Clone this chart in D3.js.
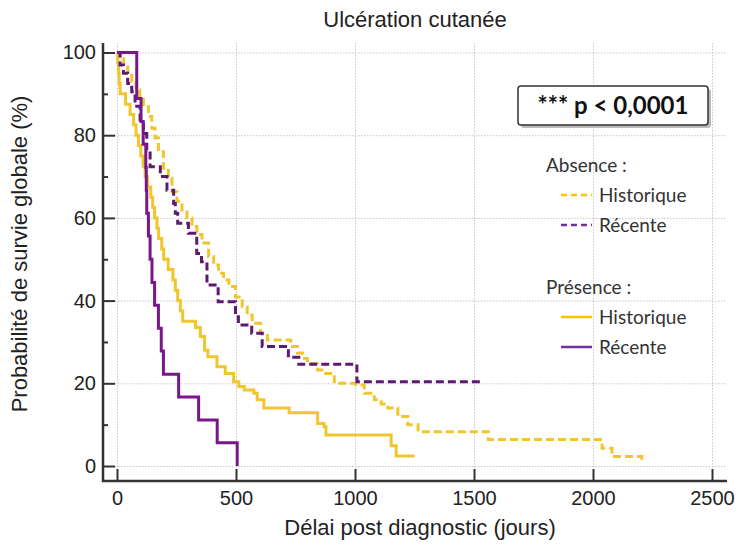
<!DOCTYPE html>
<html>
<head>
<meta charset="utf-8">
<script src="https://cdn.jsdelivr.net/npm/d3@7"></script>
<style>
  html, body { margin: 0; padding: 0; background: #fff; }
  svg { display: block; }
</style>
</head>
<body>
<svg id="chart" width="740" height="544"></svg>
<script>
// ---- Data ----
const chartTitle = "Ulcération cutanée";
const xTitle = "Délai post diagnostic (jours)";
const yTitle = "Probabilité de survie globale (%)";
const xTicks = [0, 500, 1000, 1500, 2000, 2500];
const yTicks = [0, 20, 40, 60, 80, 100];
const yMinorTicks = [10, 30, 50, 70, 90];
const pText = "*** p < 0,0001";

// Absence : Historique (yellow dashed)
const absHistDays = [0, 12, 28, 45, 62, 80, 96, 111, 132, 146, 160, 174, 195, 216, 231, 252,
  273, 294, 315, 336, 357, 385, 406, 427, 448, 470, 498, 526, 547, 568, 603, 632,
  730, 758, 780, 800, 843, 870, 913, 1004, 1039, 1081, 1110, 1138, 1180, 1222, 1265, 1560,
  2038, 2080, 2205];
const absHistSurv = [100, 98.5, 96.5, 95, 93, 91, 89, 86.9, 84.5, 81.7, 79.3, 76, 72, 69.6, 66.3, 64,
  61.9, 60, 57.9, 56, 53.9, 50.6, 48.6, 46.6, 45, 43.4, 40.9, 38.5, 36.5, 34.5, 32.1, 30.5,
  28.9, 27.3, 26, 24.8, 23.2, 22.4, 20, 19.6, 17.6, 16, 15, 14, 12, 10, 8.3, 6.4,
  4.3, 2.3, 1];

// Absence : Récente (purple dashed)
const absRecDays = [0, 13, 27, 45, 62, 76, 97, 111, 125, 139, 182, 210, 238, 245, 255, 300, 335, 355,
  378, 425, 498, 510, 566, 610, 720, 764, 1008, 1525];
const absRecSurv = [100, 97, 95, 92.5, 90.5, 87, 83.7, 80.4, 76.4, 72.4, 70, 66.7, 63.5, 61.1, 58.7, 56.3, 51.4, 49.4,
  43.8, 39.7, 36.1, 34.1, 32.1, 28.9, 26.3, 24.6, 20.4, 20.4];

// Présence : Historique (yellow solid)
const preHistDays = [0, 3, 6, 9, 13, 36, 55, 70, 80, 90, 100, 110, 118, 128, 142, 150, 158, 168, 175,
  188, 196, 215, 235, 245, 255, 266, 276, 330, 350, 368, 382, 420, 455, 490, 512, 535, 575, 589,
  617, 723, 843, 870, 878, 1152, 1173, 1250];
const preHistSurv = [100, 97.5, 95, 92.5, 90, 87.5, 85, 82.5, 80, 77.5, 75, 72.5, 70, 67.5, 65, 62.5, 60, 57.5, 55,
  52.5, 50, 47.5, 45, 42.5, 40, 37.5, 35, 33.5, 31.3, 28, 26.4, 24, 22.4, 20.4, 19.2, 18.4, 17.6, 16,
  14, 12.9, 10.3, 9.5, 7.5, 4.9, 2.4, 2.4];

// Présence : Récente (purple solid)
const preRecDays = [0, 83, 101, 110, 121, 123, 125, 132, 139, 147, 158, 174, 186, 195, 259, 343, 421, 505];
const preRecSurv = [100, 88.9, 83.3, 77.8, 72.2, 66.7, 61.1, 55.6, 50, 44.4, 38.9, 33.3, 27.8, 22.2, 16.7, 11.1, 5.6, 0];

// ---- Layout & style ----
const COL_Y = "#F0C62C", COL_P = "#78168A", COL_PD = "#5E1A70";
const LEG_Y = "#FFC000", LEG_P = "#7030A0";
const axisFont = "'Liberation Sans', Arial, sans-serif";
const legFont = "Lato, 'Open Sans', sans-serif";

const frame = { left: 103, right: 727, top: 43, bottom: 481 };
const svg = d3.select("#chart");

const x = d3.scaleLinear().domain([0, 2500]).range([117, 712]);
const y = d3.scaleLinear().domain([0, 100]).range([466, 52.5]);

// Grid
const grid = svg.append("g").attr("stroke", "#c8c8c8").attr("stroke-width", 1).attr("stroke-dasharray", "1.5,1.5");
grid.selectAll("line.v").data(xTicks).join("line")
  .attr("x1", d => x(d) + 0.5).attr("x2", d => x(d) + 0.5)
  .attr("y1", frame.top).attr("y2", frame.bottom);
grid.selectAll("line.h").data(yTicks).join("line")
  .attr("x1", frame.left).attr("x2", frame.right)
  .attr("y1", d => y(d) + 0.5).attr("y2", d => y(d) + 0.5);

// Axes
const fmt = d3.format("d");
const yAxis = svg.append("g").attr("transform", `translate(${frame.left},0)`)
  .call(d3.axisLeft(y).tickValues(yTicks).tickFormat(fmt).tickSize(-12).tickPadding(7));
const yMinor = svg.append("g").attr("transform", `translate(${frame.left},0)`)
  .call(d3.axisLeft(y).tickValues(yMinorTicks).tickSize(-5).tickFormat(""));
const xAxis = svg.append("g").attr("transform", `translate(0,${frame.bottom})`)
  .call(d3.axisBottom(x).tickValues(xTicks).tickFormat(fmt).tickSize(-12).tickPadding(10));
[yAxis, yMinor, xAxis].forEach(g => {
  g.select(".domain").remove();
  g.selectAll(".tick line").attr("stroke", "#333").attr("stroke-width", 2);
  g.selectAll(".tick text").attr("fill", "#222").style("font-family", axisFont).style("font-size", "20px");
});
svg.append("line").attr("x1", frame.left).attr("x2", frame.left).attr("y1", frame.top).attr("y2", frame.bottom + 1)
  .attr("stroke", "#333").attr("stroke-width", 2.5);
svg.append("line").attr("x1", frame.left - 1).attr("x2", frame.right).attr("y1", frame.bottom).attr("y2", frame.bottom)
  .attr("stroke", "#333").attr("stroke-width", 2.5);

// Titles
svg.append("text").attr("x", 415).attr("y", 27).attr("text-anchor", "middle")
  .style("font-family", axisFont).style("font-size", "22px").attr("fill", "#222").text(chartTitle);
svg.append("text").attr("x", 420).attr("y", 535).attr("text-anchor", "middle")
  .style("font-family", axisFont).style("font-size", "22px").attr("fill", "#222").text(xTitle);
svg.append("text").attr("transform", "translate(27,254) rotate(-90)").attr("text-anchor", "middle")
  .style("font-family", axisFont).style("font-size", "22px").attr("fill", "#222").text(yTitle);

// Curves
const series = [
  { days: absHistDays, surv: absHistSurv, color: COL_Y, dash: "8,4" },
  { days: preHistDays, surv: preHistSurv, color: COL_Y, dash: null },
  { days: absRecDays, surv: absRecSurv, color: COL_PD, dash: "8,4" },
  { days: preRecDays, surv: preRecSurv, color: COL_P, dash: null }
];
const line = d3.line().x(d => x(d[0])).y(d => y(d[1])).curve(d3.curveStepAfter);
series.forEach(s => {
  svg.append("path").datum(d3.zip(s.days, s.surv))
    .attr("d", line).attr("fill", "none").attr("stroke", s.color)
    .attr("stroke-width", 3).attr("stroke-dasharray", s.dash);
});

// p-value box
svg.append("rect").attr("x", 521).attr("y", 89).attr("width", 190).attr("height", 39).attr("rx", 3)
  .attr("fill", "#bbb");
svg.append("rect").attr("x", 518).attr("y", 86).attr("width", 190).attr("height", 39).attr("rx", 3)
  .attr("fill", "#fff").attr("stroke", "#333").attr("stroke-width", 1.5);
svg.append("text").attr("x", 613).attr("y", 114).attr("text-anchor", "middle")
  .style("font-family", legFont).style("font-weight", "bold").style("font-size", "24px").attr("fill", "#111")
  .text(pText);

// Legend
const legGroups = [
  { head: "Absence :", y: 165, items: [
    { label: "Historique", color: LEG_Y, dash: "6,4", y: 195 },
    { label: "Récente", color: LEG_P, dash: "6,4", y: 225 }] },
  { head: "Présence :", y: 287, items: [
    { label: "Historique", color: LEG_Y, dash: null, y: 317 },
    { label: "Récente", color: LEG_P, dash: null, y: 347 }] }
];
legGroups.forEach(g => {
  svg.append("text").attr("x", 546).attr("y", g.y).attr("dy", "0.35em")
    .style("font-family", legFont).style("font-size", "19px").attr("fill", "#333").text(g.head);
  g.items.forEach(it => {
    svg.append("line").attr("x1", 561).attr("x2", 592).attr("y1", it.y).attr("y2", it.y)
      .attr("stroke", it.color).attr("stroke-width", 2.5).attr("stroke-dasharray", it.dash);
    svg.append("text").attr("x", 599).attr("y", it.y).attr("dy", "0.35em")
      .style("font-family", legFont).style("font-size", "19px").attr("fill", "#333").text(it.label);
  });
});
</script>
</body>
</html>
